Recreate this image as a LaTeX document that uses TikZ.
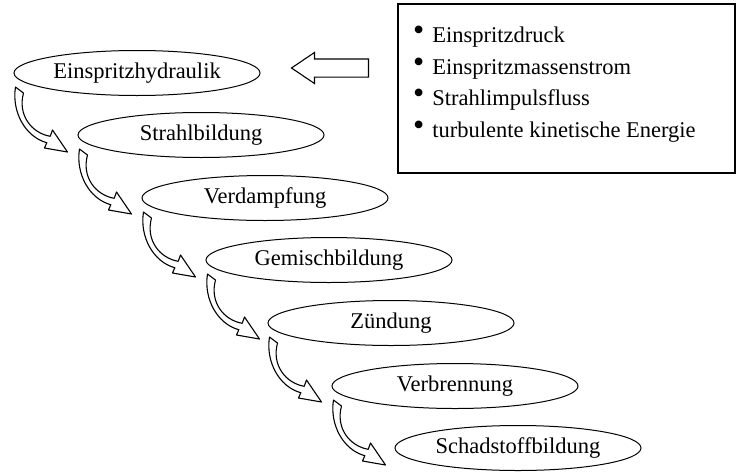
\documentclass[tikz,border=0pt]{standalone}
\usepackage{fontspec}
\setmainfont{Liberation Serif}
\usetikzlibrary{shapes.geometric, shapes.arrows, calc}
\newcommand{\itembullet}{\raisebox{2pt}{\fontsize{32}{32}\selectfont\textbullet}\hspace*{8pt}}
\tikzset{
  stage/.style={ellipse, draw, line width=1pt, minimum width=246pt,
    minimum height=45pt, inner sep=0pt, font=\fontsize{22.5}{27}\selectfont},
  infobox/.style={rectangle, draw, line width=1.5pt, minimum width=337pt,
    minimum height=169pt, inner sep=0pt},
  item/.style={anchor=base west, inner sep=0pt, font=\fontsize{22.5}{27}\selectfont},
  feed/.style={single arrow, draw, line width=1.1pt, shape border rotate=180,
    minimum height=77pt, inner xsep=0pt, inner ysep=8.5pt,
    single arrow head extend=6.5pt, single arrow tip angle=68},
  bendarrow/.pic={
    \draw[line width=1.1pt, fill=white, line join=round]
      (-2,0) .. controls (-6,25) and (8,50) .. (29.3,55.7)
      -- (27,61) -- (50,65) -- (35,43) -- (32.7,49.3)
      .. controls (14,46) and (0,28) .. (6,6) -- cycle;
  }
}
\begin{document}
\begin{tikzpicture}[x=1pt, y=-1pt]
  \useasboundingbox (0,0) rectangle (736,474);

  % Process chain
  \node[stage] (e1) at (137,73) {Einspritzhydraulik};
  \node[stage] (e2) at (201,135) {Strahlbildung};
  \node[stage] (e3) at (265,198) {Verdampfung};
  \node[stage] (e4) at (329,260) {Gemischbildung};
  \node[stage] (e5) at (391,323) {Zündung};
  \node[stage] (e6) at (455,386) {Verbrennung};
  \node[stage] (e7) at (518,448) {Schadstoffbildung};

  % Curved block arrows
  \pic at ($(e1.west)+(4,14)$) {bendarrow};
  \pic at ($(e2.west)+(4,14)$) {bendarrow};
  \pic at ($(e3.west)+(4,14)$) {bendarrow};
  \pic at ($(e4.west)+(4,14)$) {bendarrow};
  \pic at ($(e5.west)+(4,14)$) {bendarrow};
  \pic at ($(e6.west)+(4,14)$) {bendarrow};

  % Input quantities
  \node[infobox] (info) at (566.5,88.5) {};
  \node[item] (p1) at (413,42) {\itembullet Einspritzdruck};
  \node[item] (p2) at (413,74) {\itembullet Einspritzmassenstrom};
  \node[item] (p3) at (413,105) {\itembullet Strahlimpulsfluss};
  \node[item] (p4) at (413,137) {\itembullet turbulente kinetische Energie};

  \node[feed, anchor=tip] (feed) at ($(e1.east)+(30,-5)$) {};
\end{tikzpicture}
\end{document}
